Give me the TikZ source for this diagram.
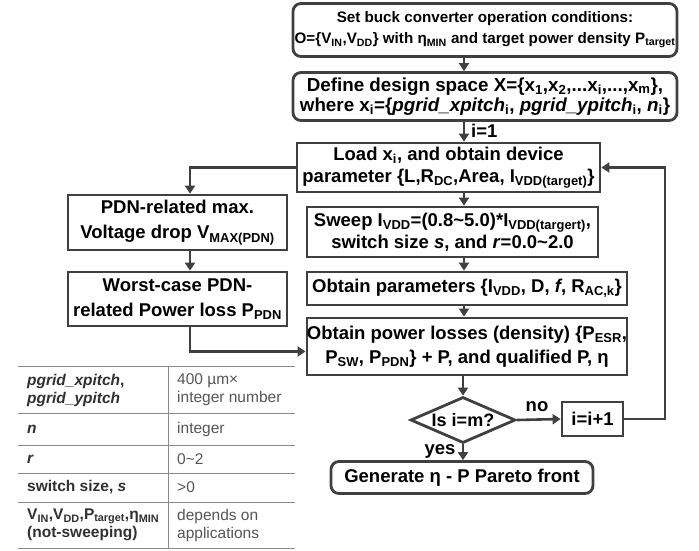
\documentclass[tikz,border=0pt]{standalone}
\usepackage{fontspec}
\setmainfont{Liberation Sans}
\usetikzlibrary{arrows.meta,shapes.geometric}
\definecolor{bordercol}{HTML}{404040}
\definecolor{tabline}{HTML}{8A8A8A}
\definecolor{tabtextL}{HTML}{303030}
\definecolor{tabtextR}{HTML}{555555}
\newcommand{\sbs}[1]{\textsubscript{#1}}
\begin{document}
\begin{tikzpicture}[x=1pt,y=-1pt,
  box/.style={draw=bordercol, line width=2.8pt, fill=white, inner sep=0pt,
    align=center, text=black, font=\bfseries\fontsize{18.5}{22}\selectfont},
  rbox/.style={box, rounded corners=8pt},
  arr/.style={draw=bordercol, line width=2.6pt, -{Triangle[length=8pt,width=10pt]}},
  lbl/.style={font=\bfseries\fontsize{18.5}{22}\selectfont, text=black, inner sep=0pt},
  tl/.style={anchor=west, inner sep=0pt, align=left, text=tabtextL, font=\bfseries\fontsize{15.5}{18}\selectfont},
  tr/.style={anchor=west, inner sep=0pt, align=left, text=tabtextR, font=\fontsize{15.5}{18}\selectfont},
  tline/.style={draw=tabline, line width=1pt}
]
\useasboundingbox (0,0) rectangle (699,550);
\coordinate (col) at (464,0);

% main column
\node[rbox, minimum width=384pt, minimum height=53pt, font=\bfseries\fontsize{15.2}{21}\selectfont] (b1) at (485,30)
  {Set buck converter operation conditions:\\O=\{V\sbs{IN},V\sbs{DD}\} with η\sbs{MIN} and target power density P\sbs{target}};
\node[rbox, minimum width=384pt, minimum height=48pt, font=\bfseries\fontsize{18.8}{20}\selectfont] (b2) at (485,96.5)
  {Define design space X=\{x\sbs{1},x\sbs{2},...x\sbs{i},...,x\sbs{m}\},\\where x\sbs{i}=\{\textit{pgrid\_xpitch}\sbs{i}, \textit{pgrid\_ypitch}\sbs{i}, \textit{n}\sbs{i}\}};
\node[box, minimum width=303pt, minimum height=49pt] (b3) at (448.5,167.5)
  {Load x\sbs{i}, and obtain device\\parameter \{L,R\sbs{DC},Area, I\sbs{VDD(target)}\}};
\node[box, minimum width=291pt, minimum height=50pt] (b4) at (452.5,232)
  {Sweep I\sbs{VDD}=(0.8\textasciitilde5.0)*I\sbs{VDD(targert)},\\switch size \textit{s}, and \textit{r}=0.0\textasciitilde2.0};
\node[box, minimum width=320pt, minimum height=33pt] (b5) at (467,288.5)
  {Obtain parameters \{I\sbs{VDD}, D, \textit{f}, R\sbs{AC,k}\}};
\node[box, minimum width=320pt, minimum height=57pt, font=\bfseries\fontsize{18.5}{24}\selectfont] (b6) at (467,346.5)
  {Obtain power losses (density) \{P\sbs{ESR},\\P\sbs{SW}, P\sbs{PDN}\} + P, and qualified P, η};
\node[draw=bordercol, line width=2.8pt, fill=white, diamond, aspect=2.28, inner sep=0pt,
  minimum width=105pt, minimum height=46pt, font=\bfseries\fontsize{18}{22}\selectfont] (d) at (463,420) {Is i=m?};
\node[box, minimum width=61pt, minimum height=34pt] (inc) at (592.5,419) {i=i+1};
\node[rbox, minimum width=262pt, minimum height=32pt] (fin) at (462,477.5) {Generate η - P Pareto front};

% left column
\node[box, minimum width=219pt, minimum height=55pt, font=\bfseries\fontsize{18.5}{25}\selectfont] (pdn) at (177.5,222.5)
  {PDN-related max.\\Voltage drop V\sbs{MAX(PDN)}};
\node[box, minimum width=219pt, minimum height=54pt, font=\bfseries\fontsize{18.5}{25}\selectfont] (wc) at (177.5,299)
  {Worst-case PDN-\\related Power loss P\sbs{PDN}};
\coordinate (lcol) at (190,0);

% connectors
\draw[arr] (b1.south -| col) -- (b2.north -| col);
\draw[arr] (b2.south -| col) -- (b3.north -| col);
\node[lbl, anchor=west] (i1) at (471,131) {i=1};
\draw[arr] (b3.south -| col) -- (b4.north -| col);
\draw[arr] (b4.south -| col) -- (b5.north -| col);
\draw[arr] (b5.south -| col) -- (b6.north -| col);
\draw[arr] (b6.south -| d) -- (d.north);
\draw[arr] (d.east) -- (inc.west);
\node[lbl] (no) at (537,407) {no};
\coordinate (fbc) at (665,167.5);
\draw[arr] (inc.east) -| (fbc) -- (b3.east);
\draw[arr] (d.south) -- (fin.north -| d);
\node[lbl] (yes) at (440,451) {yes};
\draw[arr] (b3.west) -| (pdn.north -| lcol);
\draw[arr] (pdn.south -| lcol) -- (wc.north -| lcol);
\draw[arr] (wc.south -| lcol) |- ([yshift=-5pt]b6.west);

% table
\draw[tline] (18,366) -- (295,366);
\draw[tline] (18,413) -- (295,413);
\draw[tline] (18,445) -- (295,445);
\draw[tline] (18,473) -- (295,473);
\draw[tline] (18,502) -- (295,502);
\draw[tline] (18,548) -- (295,548);
\draw[tline] (168,366) -- (168,548);
\node[tl] (t1l) at (27,390) {\textit{pgrid\_xpitch},\\\textit{pgrid\_ypitch}};
\node[tr] (t1r) at (177,390) {400 µm×\\integer number};
\node[tl] (t2l) at (27,429) {\textit{n}};
\node[tr] (t2r) at (177,429) {integer};
\node[tl] (t3l) at (27,459) {\textit{r}};
\node[tr] (t3r) at (177,459) {0\textasciitilde2};
\node[tl] (t4l) at (27,487.5) {switch size, \textit{s}};
\node[tr] (t4r) at (177,487.5) {>0};
\node[tl] (t5l) at (27,525) {V\sbs{IN},V\sbs{DD},P\sbs{target},η\sbs{MIN}\\(not-sweeping)};
\node[tr] (t5r) at (177,525) {depends on\\applications};
\end{tikzpicture}
\end{document}
